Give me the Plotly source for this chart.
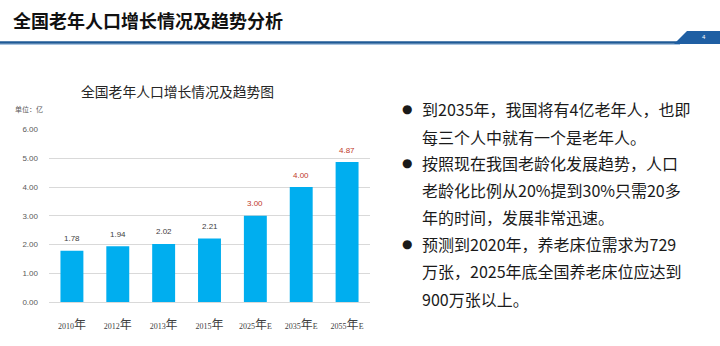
import plotly.graph_objects as go

categories = ["2010年", "2012年", "2013年", "2015年", "2025年E", "2035年E", "2055年E"]
years = ["2010", "2012", "2013", "2015", "2025", "2035", "2055"]
suffixes = ["", "", "", "", "E", "E", "E"]
values = [1.78, 1.94, 2.02, 2.21, 3.00, 4.00, 4.87]
label_colors = ["#404040", "#404040", "#404040", "#404040", "#C0392B", "#C0392B", "#C0392B"]
y_ticks = [0, 1, 2, 3, 4, 5, 6]

header_title = "全国老年人口增长情况及趋势分析"
chart_title = "全国老年人口增长情况及趋势图"
unit_label = "单位：亿"
page_number = "4"
bullet_lines = [
    ["到2035年，我国将有4亿老年人，也即", "每三个人中就有一个是老年人。"],
    ["按照现在我国老龄化发展趋势，人口", "老龄化比例从20%提到30%只需20多", "年的时间，发展非常迅速。"],
    ["预测到2020年，养老床位需求为729", "万张，2025年底全国养老床位应达到", "900万张以上。"],
]

W, H = 720, 346
PL, PR, PT, PB = 49, 370, 129, 302  # plot area in pixels


def px(x):
    return (x - PL) / (PR - PL)


def py(y):
    return (PB - y) / (PB - PT)


CJK = "Noto Sans CJK SC, Noto Sans, sans-serif"

fig = go.Figure()
fig.add_trace(go.Bar(
    x=categories, y=values, marker_color="#00AEEF", marker_line_width=0,
    hoverinfo="skip", showlegend=False,
))

annotations = []
for c, v, col in zip(categories, values, label_colors):
    annotations.append(dict(
        x=c, y=v, xref="x", yref="y", text=f"{v:.2f}", showarrow=False,
        yshift=12, font=dict(size=8, color=col, family="Liberation Sans, sans-serif"),
    ))

# header title
annotations.append(dict(x=px(11), y=py(20), xref="paper", yref="paper", text=f"<b>{header_title}</b>",
                        showarrow=False, xanchor="left", yanchor="middle",
                        font=dict(size=18, color="#111111", family=CJK)))
# page number
annotations.append(dict(x=px(704), y=py(37), xref="paper", yref="paper", text=page_number,
                        showarrow=False, xanchor="center", yanchor="middle",
                        font=dict(size=6, color="#FFFFFF", family="Liberation Sans")))
# chart title
annotations.append(dict(x=px(177), y=py(91), xref="paper", yref="paper", text=chart_title,
                        showarrow=False, xanchor="center", yanchor="middle",
                        font=dict(size=13.8, color="#262626", family=CJK)))
# unit label
annotations.append(dict(x=px(13), y=py(109), xref="paper", yref="paper", text=unit_label,
                        showarrow=False, xanchor="left", yanchor="middle",
                        font=dict(size=7, color="#595959", family=CJK)))

# right text
line_y = [109, 137, 163, 190, 217, 244, 271, 299]
k = 0
for group in bullet_lines:
    annotations.append(dict(x=px(407), y=py(line_y[k]), xref="paper", yref="paper", text="●",
                            showarrow=False, xanchor="center", yanchor="middle",
                            font=dict(size=12, color="#1a1a1a", family="DejaVu Sans")))
    for line in group:
        annotations.append(dict(x=px(420), y=py(line_y[k]), xref="paper", yref="paper", text=line,
                                showarrow=False, xanchor="left", yanchor="middle",
                                font=dict(size=16, color="#1a1a1a", family=CJK)))
        k += 1

shapes = [
    dict(type="line", xref="paper", yref="paper", x0=px(0), x1=px(680), y0=py(42.5), y1=py(42.5),
         line=dict(color="#1F5A96", width=2.5)),
    dict(type="line", xref="paper", yref="paper", x0=px(0), x1=px(680), y0=py(44.5), y1=py(44.5),
         line=dict(color="#A9C4E0", width=1)),
    dict(type="path", xref="paper", yref="paper",
         path=f"M {px(674)},{py(44)} L {px(687)},{py(31)} L {px(720)},{py(31)} L {px(720)},{py(44)} Z",
         fillcolor="#1F5FA3", line=dict(width=0)),
]

ticktext = [f"<span style='font-family:Liberation Serif;font-size:8px'>{y}</span>年"
            f"<span style='font-family:Liberation Serif;font-size:8px'>{s}</span>"
            for y, s in zip(years, suffixes)]

fig.update_layout(
    width=W, height=H,
    margin=dict(l=PL, r=W - PR, t=PT, b=H - PB),
    paper_bgcolor="white", plot_bgcolor="white",
    bargap=0.5,
    annotations=annotations, shapes=shapes,
    xaxis=dict(tickvals=categories, ticktext=ticktext, showgrid=False, showline=False,
               ticks="", ticklabelstandoff=14,
               tickfont=dict(size=12, color="#404040", family=CJK)),
    yaxis=dict(range=[0, 6.02], tickvals=y_ticks, ticktext=[f"{t:.2f}" for t in y_ticks],
               showgrid=True, gridcolor="#D9D9D9", gridwidth=1, zeroline=True,
               zerolinecolor="#D9D9D9", zerolinewidth=1, ticks="", ticklabelstandoff=10,
               tickfont=dict(size=8, color="#595959", family="Liberation Sans, sans-serif")),
)

fig.write_html("out.html")
